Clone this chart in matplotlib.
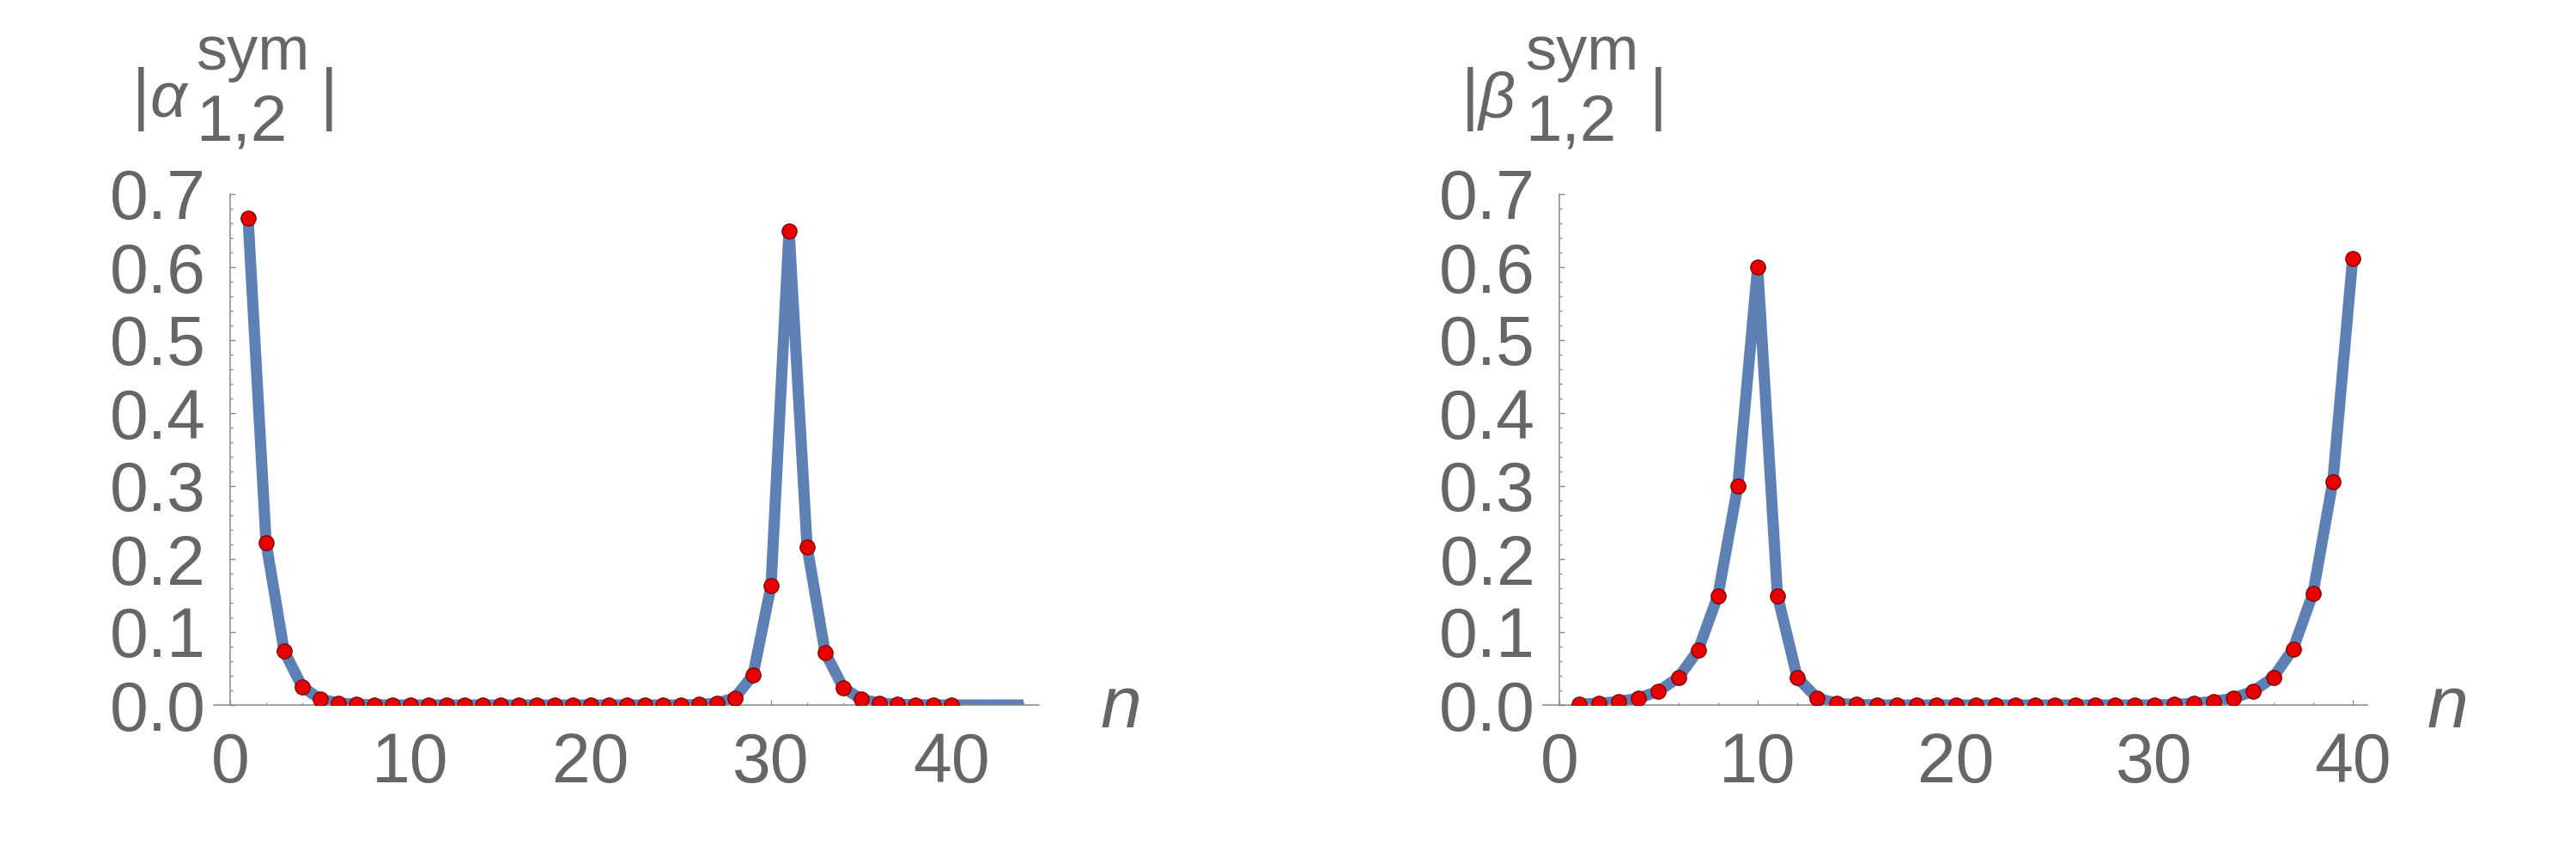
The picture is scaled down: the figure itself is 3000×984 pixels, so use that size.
import matplotlib
matplotlib.use("Agg")
import matplotlib.pyplot as plt
from matplotlib.ticker import MultipleLocator, FixedLocator, FormatStrFormatter

# ---------------- data ----------------
n_points = list(range(1, 41))

alpha_points = [0.667, 0.222, 0.074, 0.025, 0.0082, 0.0027, 0.0009, 0.0003, 0.0001, 0.0,
                0.0, 0.0, 0.0, 0.0, 0.0, 0.0, 0.0, 0.0, 0.0, 0.0,
                0.0, 0.0, 0.0, 0.0, 0.0001, 0.0006, 0.0025, 0.010, 0.041, 0.163,
                0.650, 0.217, 0.072, 0.024, 0.008, 0.0027, 0.0009, 0.0003, 0.0001, 0.0]

beta_points = [0.0012, 0.0023, 0.0047, 0.0094, 0.019, 0.0375, 0.075, 0.150, 0.300, 0.600,
               0.150, 0.0375, 0.0094, 0.0023, 0.0006, 0.0001, 0.0, 0.0, 0.0, 0.0,
               0.0, 0.0, 0.0, 0.0, 0.0, 0.0, 0.0, 0.0, 0.0, 0.0001,
               0.0006, 0.0024, 0.0048, 0.0096, 0.019, 0.038, 0.077, 0.153, 0.306, 0.612]

# continuous curves (left curve continues flat beyond the last point)
alpha_curve_n = list(range(1, 45))
alpha_curve = alpha_points + [0.0, 0.0, 0.0, 0.0]
beta_curve_n = list(range(1, 41))
beta_curve = beta_points

x_ticks = [0, 10, 20, 30, 40]
y_ticks = [0.0, 0.1, 0.2, 0.3, 0.4, 0.5, 0.6, 0.7]

# ---------------- style ----------------
W, H = 3000, 984
LINE_C = "#5E81B5"
DOT_C = "#E60000"
DOT_EDGE = "#7A0000"
TXT_C = "#666666"
AX_C = "#888888"
FONT = "Liberation Sans"

plt.rcParams["font.family"] = [FONT, "DejaVu Sans"]

fig = plt.figure(figsize=(W / 100, H / 100), dpi=100)


def fx(px):
    return px / W


def fy(py):
    return 1 - py / H


def make_axes(left_px, right_px, x_zero_px, xmin, xmax):
    top_px, bot_px = 226, 821
    ax = fig.add_axes([fx(left_px), fy(bot_px), fx(right_px - left_px), (bot_px - top_px) / H])
    ax.set_xlim(xmin, xmax)
    ax.set_ylim(0, 0.7)
    ax.patch.set_alpha(0)
    for s in ("top", "right"):
        ax.spines[s].set_visible(False)
    ax.spines["left"].set_position(("data", 0))
    for s in ("left", "bottom"):
        ax.spines[s].set_color(AX_C)
        ax.spines[s].set_linewidth(1.1)
    ax.xaxis.set_major_locator(FixedLocator(x_ticks))
    ax.xaxis.set_minor_locator(MultipleLocator(2))
    ax.yaxis.set_major_locator(FixedLocator(y_ticks))
    ax.yaxis.set_minor_locator(MultipleLocator(0.02))
    ax.yaxis.set_major_formatter(FormatStrFormatter("%.1f"))
    ax.tick_params(which="both", direction="in", color=AX_C, width=1.0)
    ax.tick_params(which="major", length=4.5)
    ax.tick_params(which="minor", length=2.2)
    ax.tick_params(axis="x", which="major", labelsize=58, labelcolor=TXT_C, pad=22)
    ax.tick_params(axis="y", which="major", labelsize=58, labelcolor=TXT_C, pad=20)
    for lab in ax.get_xticklabels() + ax.get_yticklabels():
        lab.set_fontfamily(FONT)
    return ax


def draw(ax, cn, cv, pn, pv):
    ax.plot(cn, cv, color=LINE_C, lw=9.4, solid_joinstyle="round",
            solid_capstyle="butt", zorder=2)
    ax.plot(pn, pv, linestyle="none", marker="o", ms=12.5, mfc=DOT_C,
            mec=DOT_EDGE, mew=0.9, zorder=3)


def title(x_axis_px, greek):
    specs = [
        ("|", -114, 136, 57, "normal"),
        (greek, -94, 137, 54, "italic"),
        ("sym", -40, 81, 52, "normal"),
        ("1,2", -40, 165, 55, "normal"),
        ("|", 105, 136, 57, "normal"),
    ]
    for txt, dx, by, size, style in specs:
        fig.text(fx(x_axis_px + dx), fy(by), txt, fontsize=size, style=style,
                 color=TXT_C, ha="left", va="baseline", family=[FONT, "DejaVu Sans"])


# left panel
axL = make_axes(249, 1210, 268, -0.9, 44.86)
draw(axL, alpha_curve_n, alpha_curve, n_points, alpha_points)
title(268, "α")
fig.text(fx(1282), fy(847), "n", fontsize=62, style="italic", color=TXT_C,
         ha="left", va="baseline", family=FONT)

# right panel
axR = make_axes(1797, 2757, 1816, -0.82, 40.74)
draw(axR, beta_curve_n, beta_curve, n_points, beta_points)
title(1816, "β")
fig.text(fx(2827), fy(847), "n", fontsize=62, style="italic", color=TXT_C,
         ha="left", va="baseline", family=FONT)

fig.savefig("out.png", dpi=100, facecolor="white")
